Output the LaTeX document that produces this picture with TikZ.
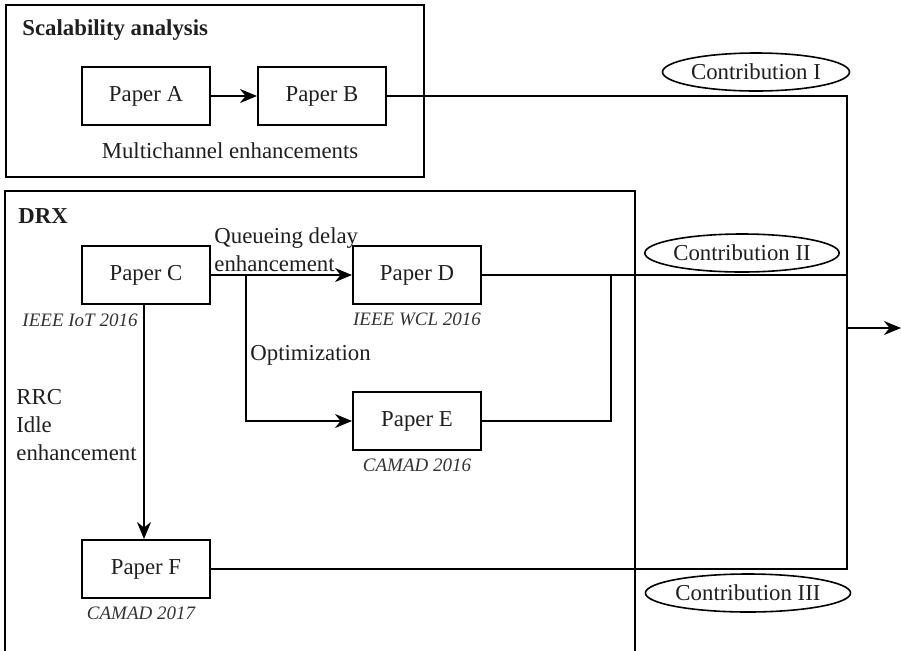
\documentclass[tikz,border=0pt]{standalone}
\usepackage{fontspec}
\setmainfont{Liberation Serif}
\usetikzlibrary{arrows.meta}
\usetikzlibrary{positioning}
\usetikzlibrary{shapes.geometric}

\begin{document}
\begin{tikzpicture}[x=0.5pt,y=-0.5pt,node distance=2.5pt,
    font=\fontsize{11.4}{14}\selectfont, text=black!88,
    paper/.style={draw=black, line width=1pt, minimum width=64pt, minimum height=29pt, inner sep=0pt},
    venue/.style={font=\fontsize{9.5}{11}\selectfont\itshape, text=black!80, inner sep=1pt},
    contrib/.style={ellipse, draw=black, line width=0.8pt, minimum width=93.5pt, minimum height=19pt, inner sep=0pt},
    heading/.style={font=\fontsize{11.4}{14}\selectfont\bfseries, anchor=west, inner sep=1pt},
    wire/.style={line width=1pt},
    >={Stealth[length=8.5pt,width=7pt]}]
            \useasboundingbox (0,0) rectangle (901,650);
            % frames
            \draw[wire] (6,5) rectangle (424,177);
            \draw[wire] (5,655) -- (5,191) -- (635,191) -- (635,655);
            \node[heading] (scal_t) at (20,30) {Scalability analysis};
            \node[heading] (drx_t) at (16,216) {DRX};
            % papers
            \node[paper] (p_a) at (146,96) {Paper A};
            \node[paper] (p_b) at (322,96) {Paper B};
            \node[paper] (p_c) at (146,275) {Paper C};
            \node[paper] (p_d) at (417,275) {Paper D};
            \node[paper] (p_e) at (417,421) {Paper E};
            \node[paper] (p_f) at (146,569) {Paper F};
            \node[inner sep=1pt] (multi) at (230,151) {Multichannel enhancements};
            \node[venue] (v_c) at (80,320) {IEEE IoT 2016};
            \node[venue] (v_d) [below=of p_d] {IEEE WCL 2016};
            \node[venue] (v_e) [below=of p_e] {CAMAD 2016};
            \node[venue] (v_f) [below=of p_f, xshift=-2.5pt] {CAMAD 2017};
            % edge texts
            \node[anchor=south west, align=left, inner sep=1.5pt] (q_t) at (p_c.east) {Queueing delay\\enhancement};
            \node[anchor=west, inner sep=1pt] (opt_t) at (248,355) {Optimization};
            \node[anchor=west, align=left, inner sep=1pt] (rrc_t) at (14,425) {RRC\\Idle\\enhancement};
            % contributions
            \node[contrib] (c_1) at (756,72) {Contribution I};
            \node[contrib] (c_2) at (742,253) {Contribution II};
            \node[contrib] (c_3) at (748,593) {Contribution III};
            % junctions
            \coordinate (br) at (246,275);
            \coordinate (mg) at (611,275);
            \coordinate (bus_t) at (847,96);
            \coordinate (bus_b) at (847,569);
            \coordinate (out_l) at (847,328);
            \coordinate (out_r) at (901,328);
            \draw[wire,->] (p_a) -- (p_b);
            \draw[wire,->] (p_c) -- (p_d);
            \draw[wire,->] (br) |- (p_e);
            \draw[wire,->] (p_c.south -| 144,0) -- (p_f.north -| 144,0);
            \draw[wire] (p_e) -| (mg);
            \draw[wire] (p_d) -- (p_d -| bus_t);
            \draw[wire] (p_b) -- (bus_t) -- (bus_b) -- (p_f);
            \draw[wire,->] (out_l) -- (out_r);
        \end{tikzpicture}
\end{document}
